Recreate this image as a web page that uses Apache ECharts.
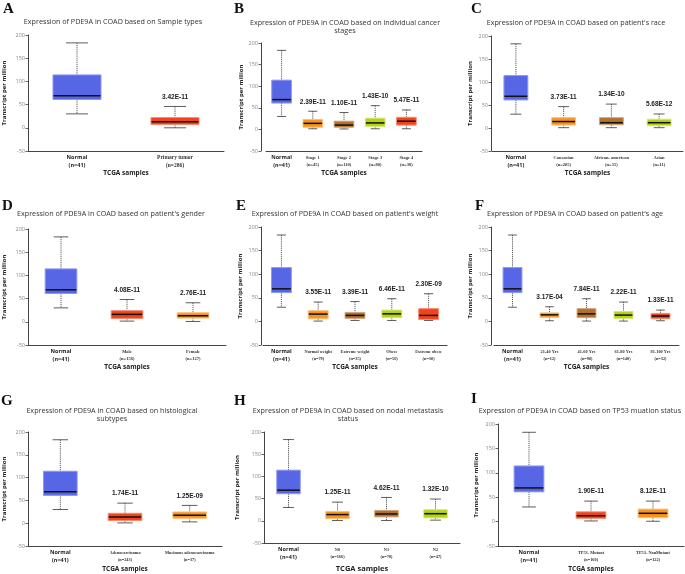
<!DOCTYPE html>
<html>
<head>
<meta charset="utf-8">
<script src="https://cdn.jsdelivr.net/npm/echarts@6/dist/echarts.min.js"></script>
<style>
html, body { margin: 0; background: #fff; }
#chart { width: 685px; height: 574px; }
</style>
</head>
<body>
<div id="chart"></div>
<script>
var BLUE = '#5766e4', RED = '#f1431c', ORANGE = '#f7941e', BROWN = '#b2702e', LIME = '#b5d312';
var EDGE = { '#5766e4': '#8e98ef', '#f1431c': '#f88a6f', '#f7941e': '#fbbf78', '#b2702e': '#d2a57a', '#b5d312': '#d4e772' };

var yTicks = [-50, 0, 50, 100, 150, 200];
// box = [min, Q1, median, Q3, max]
var normalBox = [30, 61, 69, 114, 183];

var catsA = ['Normal\n(n=41)', 'Primary tumor\n(n=286)'];
var boxA = [normalBox, [0, 7, 13, 22, 46]];
var pA = ['', '3.42E-11'];
var colA = [BLUE, RED];

var catsB = ['Normal\n(n=41)', 'Stage 1\n(n=45)', 'Stage 2\n(n=110)', 'Stage 3\n(n=80)', 'Stage 4\n(n=38)'];
var boxB = [normalBox, [1.5, 5, 14, 23, 42], [1, 5, 10, 19, 39], [1.5, 7, 15, 26, 55], [1.5, 10, 19, 28, 45]];
var pB = ['', '2.39E-11', '1.10E-11', '1.43E-10', '5.47E-11'];
var colB = [BLUE, ORANGE, BROWN, LIME, RED];

var catsC = ['Normal\n(n=41)', 'Caucasian\n(n=205)', 'African- american\n(n=55)', 'Asian\n(n=11)'];
var boxC = [normalBox, [0.7, 6.5, 14, 22.5, 46.5], [0.7, 7, 11.5, 22.5, 52], [0.7, 5, 11.5, 19, 30.5]];
var pC = ['', '3.73E-11', '1.34E-10', '5.68E-12'];
var colC = [BLUE, ORANGE, BROWN, LIME];

var catsD = ['Normal\n(n=41)', 'Male\n(n=156)', 'Female\n(n=127)'];
var boxD = [normalBox, [1.5, 7, 16, 24, 48], [0.7, 8, 13, 19.5, 41]];
var pD = ['', '4.08E-11', '2.76E-11'];
var colD = [BLUE, RED, ORANGE];

var catsE = ['Normal\n(n=41)', 'Normal weight\n(n=79)', 'Extreme weight\n(n=35)', 'Obese\n(n=56)', 'Extreme obese\n(n=30)'];
var boxE = [normalBox, [0.7, 5.6, 15.5, 22.6, 41], [2, 6.4, 12.7, 19, 42], [2, 8, 16, 24, 48], [2, 4, 12.7, 27, 58.6]];
var pE = ['', '3.55E-11', '3.39E-11', '6.46E-11', '2.30E-09'];
var colE = [BLUE, ORANGE, BROWN, LIME, RED];

var catsF = ['Normal\n(n=41)', '21-40 Yrs\n(n=12)', '41-60 Yrs\n(n=90)', '61-80 Yrs\n(n=140)', '81-100 Yrs\n(n=32)'];
var boxF = [normalBox, [1.4, 8.5, 14, 18, 31], [0.7, 8, 16, 27, 48], [0.7, 6.4, 13.4, 21, 41], [1.4, 5.6, 11.3, 17, 24]];
var pF = ['', '3.17E-04', '7.84E-11', '2.22E-11', '1.33E-11'];
var colF = [BLUE, ORANGE, BROWN, LIME, RED];

var catsG = ['Normal\n(n=41)', 'Adenocarcinoma\n(n=243)', 'Mucinous adenocarcinoma\n(n=37)'];
var boxG = [normalBox, [0.7, 5.8, 13.7, 21.7, 44], [2.9, 10.8, 17.3, 24.6, 39]];
var pG = ['', '1.74E-11', '1.25E-09'];
var colG = [BLUE, RED, ORANGE];

var catsH = ['Normal\n(n=41)', 'N0\n(n=166)', 'N1\n(n=70)', 'N2\n(n=47)'];
var boxH = [normalBox, [0.7, 5, 14, 21, 42], [0.7, 8.8, 15.4, 23.4, 52.6], [1.5, 6.6, 16, 25, 49]];
var pH = ['', '1.25E-11', '4.62E-11', '1.32E-10'];
var colH = [BLUE, ORANGE, BROWN, LIME];

var catsI = ['Normal\n(n=41)', 'TP53- Mutant\n(n=160)', 'TP53- NonMutant\n(n=122)'];
var boxI = [normalBox, [1.3, 6.7, 12, 20, 42], [0.7, 8, 17, 25.6, 42]];
var pI = ['', '1.90E-11', '8.12E-11'];
var colI = [BLUE, RED, ORANGE];

var panels = [
  { letter: 'A', cats: catsA, boxes: boxA, p: pA, colors: colA, title: 'Expression of PDE9A in COAD based on Sample types' },
  { letter: 'B', cats: catsB, boxes: boxB, p: pB, colors: colB, title: 'Expression of PDE9A in COAD based on individual cancer\nstages' },
  { letter: 'C', cats: catsC, boxes: boxC, p: pC, colors: colC, title: "Expression of PDE9A in COAD based on patient's race" },
  { letter: 'D', cats: catsD, boxes: boxD, p: pD, colors: colD, title: "Expression of PDE9A in COAD based on patient's gender" },
  { letter: 'E', cats: catsE, boxes: boxE, p: pE, colors: colE, title: "Expression of PDE9A in COAD based on patient's weight" },
  { letter: 'F', cats: catsF, boxes: boxF, p: pF, colors: colF, title: "Expression of PDE9A in COAD based on patient's age" },
  { letter: 'G', cats: catsG, boxes: boxG, p: pG, colors: colG, title: 'Expression of PDE9A in COAD based on histological\nsubtypes' },
  { letter: 'H', cats: catsH, boxes: boxH, p: pH, colors: colH, title: 'Expression of PDE9A in COAD based on nodal metastasis\nstatus' },
  { letter: 'I', cats: catsI, boxes: boxI, p: pI, colors: colI, title: 'Expression of PDE9A in COAD based on TP53 muation status' }
];

// grid = [left, top, width, height]
var layout = [
  { grid: [27, 35, 197, 116], yOff: 0, yGap: 21, xGap: 18, ratio: 0.49, font: 5.5, tx: 113, ty: 18, lx: 3, ly: 2 },
  { grid: [266, 43, 156, 108], yOff: 5, yGap: 17, xGap: 18, ratio: 0.63, font: 4.5, tx: 345, ty: 19, lx: 234, ly: 2 },
  { grid: [492, 36, 191, 115], yOff: 1, yGap: 18, xGap: 18, ratio: 0.5, font: 4.5, tx: 576, ty: 19, lx: 471, ly: 2 },
  { grid: [26, 229, 200, 116], yOff: 0, yGap: 21, xGap: 18, ratio: 0.48, font: 4.5, tx: 111, ty: 210, lx: 2, ly: 199 },
  { grid: [263, 227, 184, 118], yOff: 2, yGap: 18, xGap: 18, ratio: 0.54, font: 4.3, tx: 345, ty: 210, lx: 236, ly: 199 },
  { grid: [494, 227, 185, 118], yOff: 3, yGap: 18, xGap: 18, ratio: 0.51, font: 4.3, tx: 575, ty: 210, lx: 475, ly: 199 },
  { grid: [27, 432, 195, 116], yOff: 0, yGap: 21, xGap: 20, ratio: 0.52, font: 4.3, tx: 112, ty: 407, lx: 1, ly: 394 },
  { grid: [264, 432, 196, 114], yOff: 0, yGap: 24, xGap: 22, ratio: 0.48, font: 4.3, tx: 348, ty: 407, lx: 234, ly: 394 },
  { grid: [498, 424, 186, 124], yOff: 0, yGap: 19, xGap: 20, ratio: 0.48, font: 4.3, tx: 580, ty: 407, lx: 471, ly: 392 }
];

function makeRender(pi) {
  var P = panels[pi], L = layout[pi];
  return function (params, api) {
    var i = api.value(0);
    var x = api.coord([i, 0])[0];
    var y = [1, 2, 3, 4, 5].map(function (d) { return api.coord([i, api.value(d)])[1]; });
    var bw = api.size([1, 0])[0] * L.ratio;
    var cap = bw * 0.46;
    var col = P.colors[params.dataIndex];
    var dash = { stroke: '#333', lineWidth: 0.8, lineDash: [1.2, 0.9] };
    var solid = { stroke: '#333', lineWidth: 0.8 };
    var kids = [
      { type: 'line', shape: { x1: x, y1: y[4], x2: x, y2: y[3] }, style: dash },
      { type: 'line', shape: { x1: x, y1: y[1], x2: x, y2: y[0] }, style: dash },
      { type: 'line', shape: { x1: x - cap / 2, y1: y[4], x2: x + cap / 2, y2: y[4] }, style: solid },
      { type: 'line', shape: { x1: x - cap / 2, y1: y[0], x2: x + cap / 2, y2: y[0] }, style: solid },
      { type: 'rect', shape: { x: x - bw / 2, y: y[3], width: bw, height: y[1] - y[3] },
        style: { fill: col, stroke: EDGE[col], lineWidth: 1 } },
      { type: 'line', shape: { x1: x - bw / 2 + 0.5, y1: y[2], x2: x + bw / 2 - 0.5, y2: y[2] },
        style: { stroke: '#111', lineWidth: 1.5 } }
    ];
    var txt = P.p[params.dataIndex];
    if (txt) {
      kids.push({ type: 'text', x: x, y: y[4] - 6,
        style: { text: txt, fill: '#222', font: 'bold 6.5px "Liberation Sans"',
          align: 'center', textAlign: 'center', verticalAlign: 'bottom', textVerticalAlign: 'bottom' } });
    }
    return { type: 'group', children: kids };
  };
}

var grids = [], xAxes = [], yAxes = [], series = [], graphics = [];
panels.forEach(function (P, pi) {
  var L = layout[pi];
  grids.push({ left: L.grid[0], top: L.grid[1], width: L.grid[2], height: L.grid[3] });
  xAxes.push({
    type: 'category', gridIndex: pi, data: P.cats,
    name: 'TCGA samples', nameLocation: 'middle', nameGap: L.xGap,
    nameTextStyle: { fontFamily: 'Open Sans', fontWeight: 'bold', fontSize: pi === 7 ? 7.5 : 6.5, color: '#222' },
    axisLine: { onZero: false, lineStyle: { color: '#444', width: 1 } },
    axisTick: { show: false },
    axisLabel: {
      interval: 0, margin: 3, color: '#222',
      formatter: function (v, idx) {
        var k = idx === 0 ? 'n' : 's';
        return v.split('\n').map(function (s) { return '{' + k + '|' + s + '}'; }).join('\n');
      },
      rich: {
        n: { fontFamily: 'Open Sans', fontWeight: 'bold', fontSize: 5.5, lineHeight: 7.5, color: '#222' },
        s: { fontFamily: 'Liberation Serif', fontWeight: 'bold', fontSize: L.font, lineHeight: 7.5, color: '#333' }
      }
    }
  });
  yAxes.push({
    type: 'value', gridIndex: pi, min: yTicks[0], max: yTicks[yTicks.length - 1], interval: 50,
    offset: L.yOff,
    name: 'Transcript per million', nameLocation: 'middle', nameGap: L.yGap,
    nameTextStyle: { fontFamily: 'Open Sans', fontWeight: 'bold', fontSize: 6, color: '#222' },
    axisLine: { show: true, lineStyle: { color: '#444', width: 1 } },
    axisTick: { show: true, length: 2.5, lineStyle: { color: '#666' } },
    axisLabel: { fontSize: 5.5, color: '#888', margin: 3, fontFamily: 'Open Sans' },
    splitLine: { show: false }
  });
  series.push({
    type: 'custom', xAxisIndex: pi, yAxisIndex: pi,
    renderItem: makeRender(pi),
    encode: { x: 0, y: [1, 2, 3, 4, 5] },
    data: P.boxes.map(function (b, i) { return [i].concat(b); })
  });
  graphics.push({
    type: 'text', x: L.tx, y: L.ty,
    style: { text: P.title, fill: '#333', font: '7.2px "Open Sans"', lineHeight: 8,
      align: 'center', textAlign: 'center', verticalAlign: 'top', textVerticalAlign: 'top' }
  });
  graphics.push({
    type: 'text', x: L.lx, y: L.ly,
    style: { text: P.letter, fill: '#111', font: 'bold 15px "Liberation Serif"',
      align: 'left', textAlign: 'left', verticalAlign: 'top', textVerticalAlign: 'top' }
  });
});

var myChart = echarts.init(document.getElementById('chart'));
var option = {
  animation: false,
  backgroundColor: '#fff',
  grid: grids,
  xAxis: xAxes,
  yAxis: yAxes,
  series: series,
  graphic: graphics
};
myChart.setOption(option);
</script>
</body>
</html>
